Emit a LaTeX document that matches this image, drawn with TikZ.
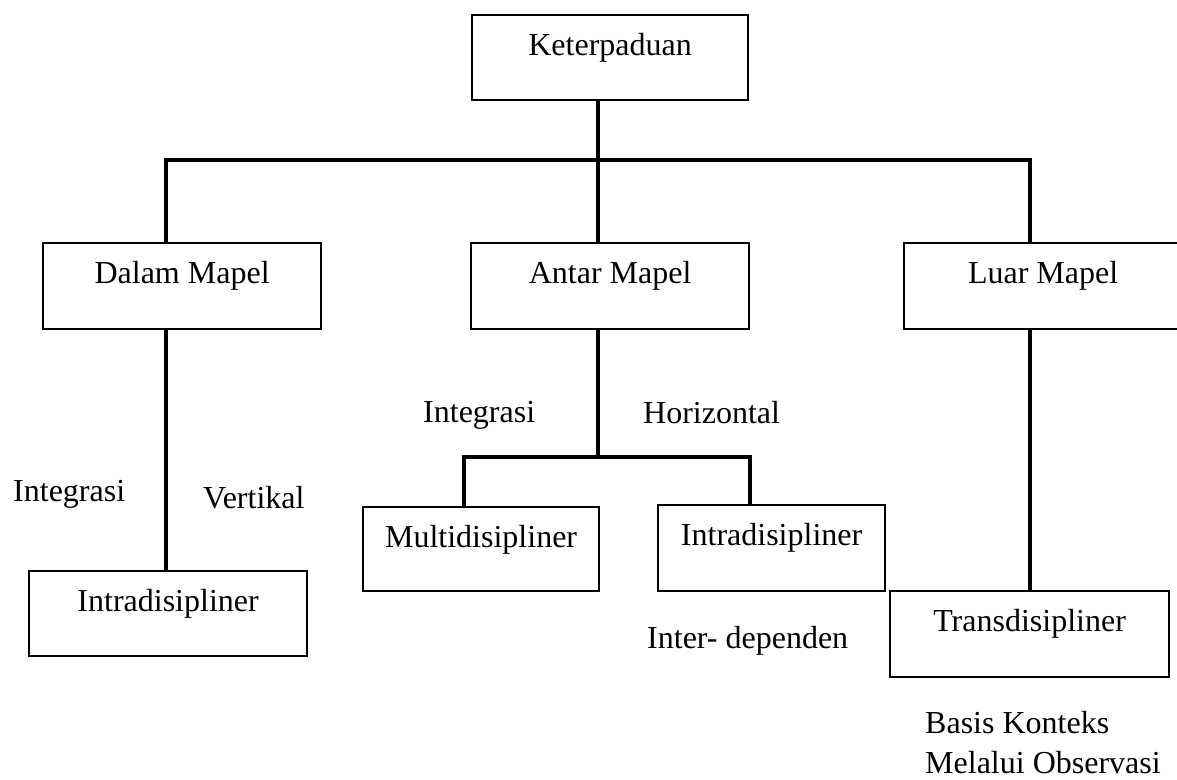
\documentclass[tikz,border=0pt]{standalone}
\usepackage{fontspec}
\setmainfont{Liberation Serif}
\begin{document}
\begin{tikzpicture}[x=1pt,y=-1pt,
  every node/.style={font=\fontsize{32}{38}\selectfont},
  box/.style={draw, line width=2.2pt, inner sep=0pt, anchor=north west, text height=40pt},
  conn/.style={line width=4.2pt},
  lbl/.style={inner sep=0pt, anchor=base west}]
\useasboundingbox[fill=white] (0,0) rectangle (1177,779);
% boxes
\node[box, minimum width=276pt, minimum height=85pt, text depth=45pt] (ket) at (471,14) {Keterpaduan};
\node[box, minimum width=278pt, minimum height=86pt, text depth=46pt] (dalam) at (42,242) {Dalam Mapel};
\node[box, minimum width=278pt, minimum height=86pt, text depth=46pt] (antar) at (470,242) {Antar Mapel};
\node[box, minimum width=278pt, minimum height=86pt, text depth=46pt] (luar) at (903,242) {Luar Mapel};
\node[box, minimum width=278pt, minimum height=85pt, text depth=45pt] (intraL) at (28,570) {Intradisipliner};
\node[box, minimum width=236pt, minimum height=84pt, text depth=44pt] (multi) at (362,506) {Multidisipliner};
\node[box, minimum width=227pt, minimum height=86pt, text depth=46pt] (intraM) at (657,504) {Intradisipliner};
\node[box, minimum width=279pt, minimum height=86pt, text depth=46pt] (trans) at (889,590) {Transdisipliner};
% junction points
\coordinate (jt) at (598,160);
\coordinate (jl) at (166,160);
\coordinate (jr) at (1030,160);
\coordinate (jm) at (598,457);
\coordinate (jml) at (464,457);
\coordinate (jmr) at (750,457);
% connectors
\draw[conn] (jt |- ket.south) -- (jt);
\draw[conn] (jl |- dalam.north) -- (jl) -- (jr) -- (jr |- luar.north);
\draw[conn] (jt) -- (jt |- antar.north);
\draw[conn] (jl |- dalam.south) -- (jl |- intraL.north);
\draw[conn] (jm |- antar.south) -- (jm);
\draw[conn] (jml |- multi.north) -- (jml) -- (jmr) -- (jmr |- intraM.north);
\draw[conn] (jr |- luar.south) -- (jr |- trans.north);
% labels
\node[lbl] (t1) at (423,422) {Integrasi};
\node[lbl] (t2) at (643,423) {Horizontal};
\node[lbl] (t3) at (13,501) {Integrasi};
\node[lbl] (t4) at (203,508) {Vertikal};
\node[lbl] (t5) at (647,648) {Inter- dependen};
\node[lbl] (t6) at (925,733) {Basis Konteks};
\node[lbl] (t7) at (925,773) {Melalui Observasi};
\end{tikzpicture}
\end{document}
